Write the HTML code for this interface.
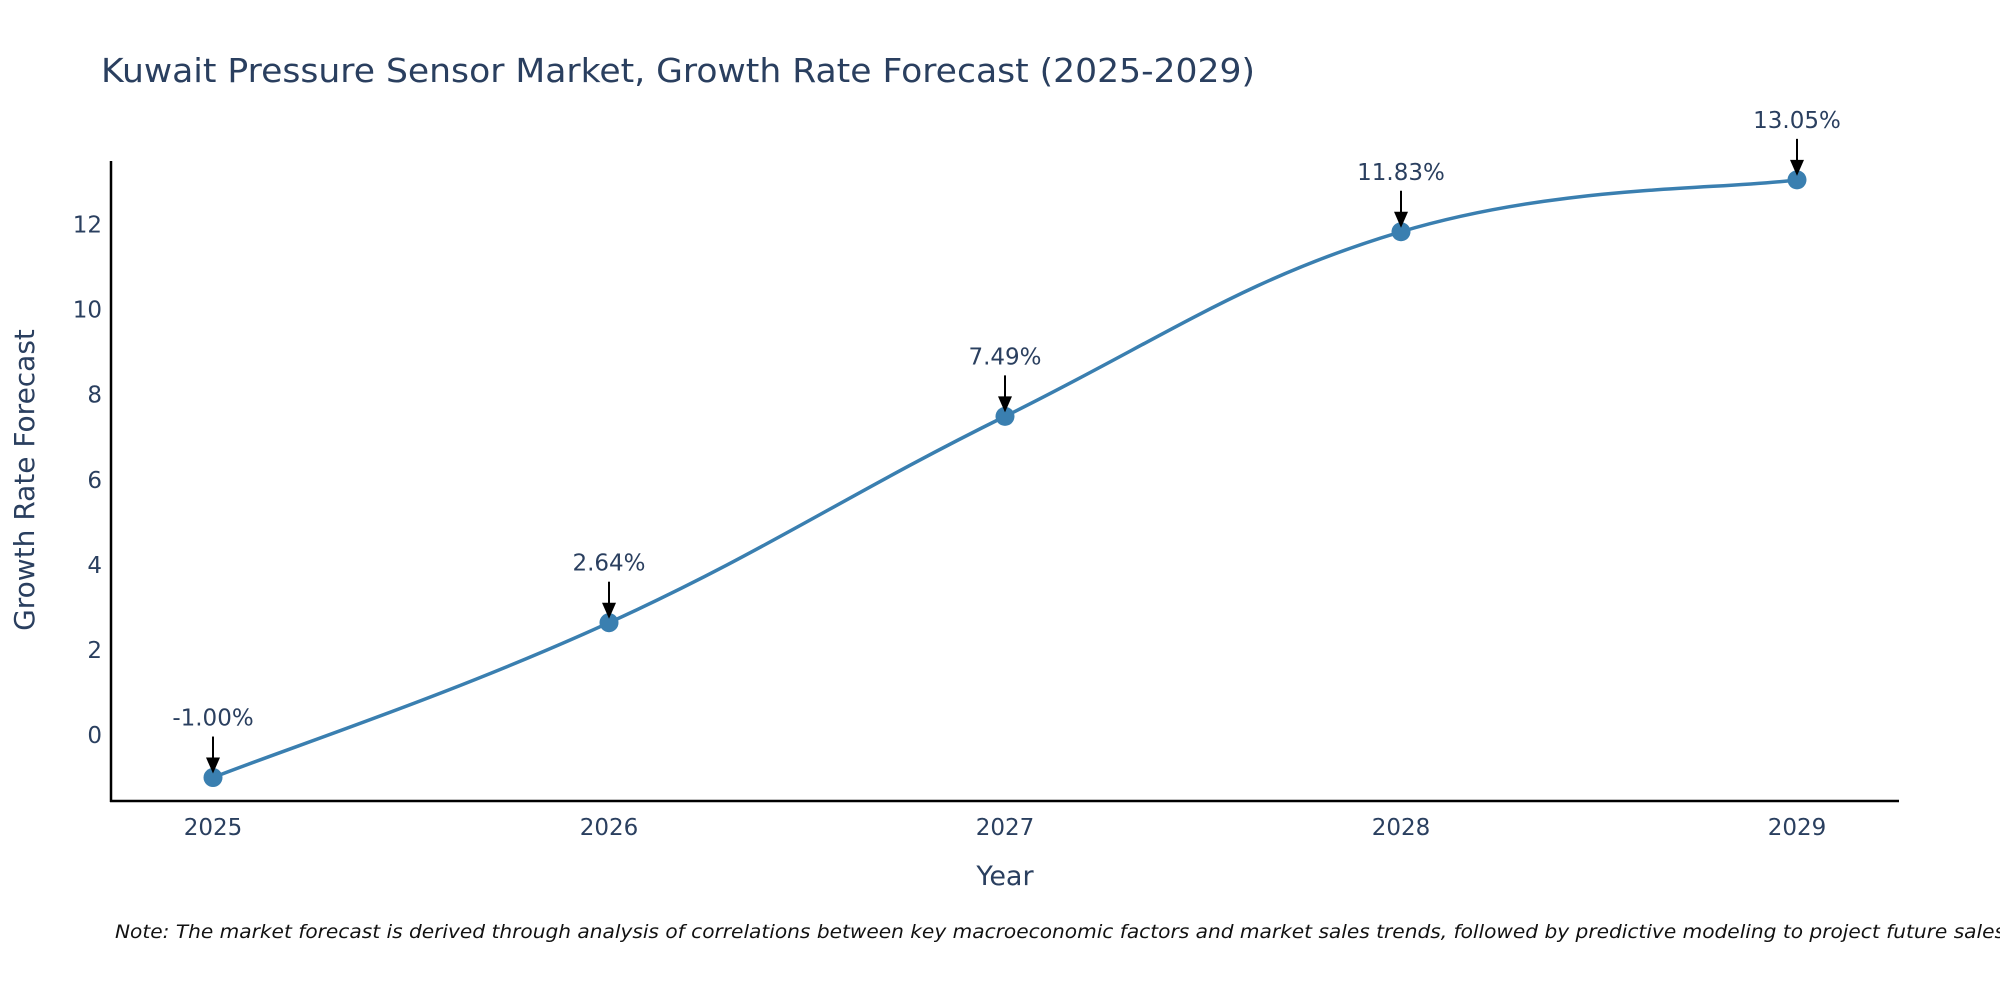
<!DOCTYPE html>
<html><head><meta charset="utf-8"><style>
html,body{margin:0;padding:0;background:#fff;}
svg{display:block;font-family:"DejaVu Sans","Liberation Sans",sans-serif;}
</style></head><body>
<svg id="chart" width="2000" height="1000" viewBox="0 0 2000 1000">
<text x="101" y="82" font-size="33" fill="#2a3f5f" textLength="1154" lengthAdjust="spacingAndGlyphs">Kuwait Pressure Sensor Market, Growth Rate Forecast (2025-2029)</text>
<g id="yticks"></g>
<g id="xticks"></g>
<path id="line" fill="none" stroke="#3a7fb0" stroke-width="3.5"/>
<g id="points"></g>
<g id="annots"></g>
<line x1="111" y1="161" x2="111" y2="802" stroke="#000" stroke-width="2.5"/>
<line x1="110" y1="801" x2="1899" y2="801" stroke="#000" stroke-width="2.5"/>
<text x="1005" y="885" font-size="27" fill="#2a3f5f" text-anchor="middle">Year</text>
<text transform="translate(34,480) rotate(-90)" font-size="28" fill="#2a3f5f" text-anchor="middle">Growth Rate Forecast</text>
<text x="115" y="938" font-size="19" font-style="italic" fill="#111" textLength="1890" lengthAdjust="spacingAndGlyphs">Note: The market forecast is derived through analysis of correlations between key macroeconomic factors and market sales trends, followed by predictive modeling to project future sales</text>
</svg>
<script>
const years = [2025, 2026, 2027, 2028, 2029];
const values = [-1.00, 2.64, 7.49, 11.83, 13.05];
const valueLabels = ["-1.00%", "2.64%", "7.49%", "11.83%", "13.05%"];
const yTicks = [0, 2, 4, 6, 8, 10, 12];

const NS = "http://www.w3.org/2000/svg";
function xScale(yr){ return 213 + (yr - 2025) * 396; }
function yScale(v){ return 735 - v * 42.54; }
function mk(tag, attrs, parent, text){
  const el = document.createElementNS(NS, tag);
  for (const k in attrs) el.setAttribute(k, attrs[k]);
  if (text !== undefined) el.textContent = text;
  parent.appendChild(el);
  return el;
}
const yg = document.getElementById('yticks');
yTicks.forEach(t => {
  const el = mk('text', {x: 102, y: yScale(t) + 8, 'font-size': 23, fill: '#2a3f5f', 'text-anchor': 'end'}, yg, String(t));
  
  
});
const xg = document.getElementById('xticks');
years.forEach(y => {
  const el = mk('text', {x: xScale(y), y: 835, 'font-size': 23, fill: '#2a3f5f', 'text-anchor': 'middle'}, xg, String(y));
  
  
});
const pts = years.map((y, i) => [xScale(y), yScale(values[i])]);
let d = `M${pts[0][0]},${pts[0][1]}`;
const s = 0.2;
for (let i = 0; i < pts.length - 1; i++) {
  const p0 = pts[i - 1] || pts[i], p1 = pts[i], p2 = pts[i + 1], p3 = pts[i + 2] || pts[i + 1];
  const c1 = [p1[0] + (p2[0] - p0[0]) * s, p1[1] + (p2[1] - p0[1]) * s];
  const c2 = [p2[0] - (p3[0] - p1[0]) * s, p2[1] - (p3[1] - p1[1]) * s];
  d += ` C${c1[0]},${c1[1]} ${c2[0]},${c2[1]} ${p2[0]},${p2[1]}`;
}
document.getElementById('line').setAttribute('d', d);
const pg = document.getElementById('points');
const ag = document.getElementById('annots');
pts.forEach((p, i) => {
  const c = mk('circle', {cx: p[0], cy: p[1], r: 9.5, fill: '#3a7fb0'}, pg);
  
  
  const ln = mk('line', {x1: p[0], y1: p[1] - 41, x2: p[0], y2: p[1] - 14, stroke: '#000', 'stroke-width': 2}, ag);
  
  
  const hd = mk('polygon', {points: `${p[0]-7},${p[1]-20} ${p[0]+7},${p[1]-20} ${p[0]},${p[1]-4}`, fill: '#000'}, ag);
  
  
  const tx = mk('text', {x: p[0], y: p[1] - 52, 'font-size': 23, fill: '#2a3f5f', 'text-anchor': 'middle'}, ag, valueLabels[i]);
  
  
});
</script>
</body></html>
